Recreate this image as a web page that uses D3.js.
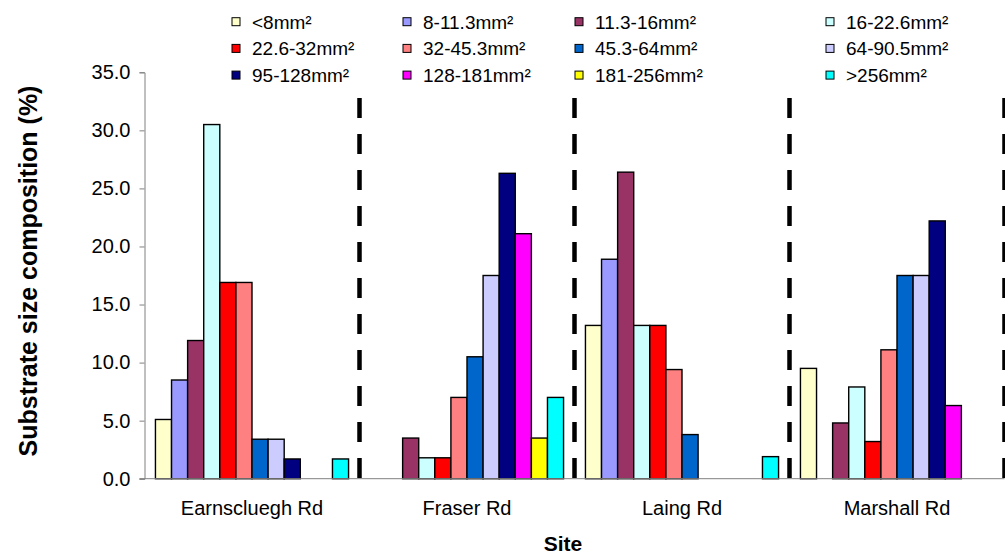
<!DOCTYPE html>
<html>
<head>
<meta charset="utf-8">
<script src="https://cdnjs.cloudflare.com/ajax/libs/d3/7.8.5/d3.min.js"></script>
<style>
  body { margin: 0; background: #fff; }
  text { font-family: "Liberation Sans", Arial, sans-serif; fill: #000; }
</style>
</head>
<body>
<div id="chart"></div>
<script>
const sites = ["Earnscluegh Rd", "Fraser Rd", "Laing Rd", "Marshall Rd"];
const sizeClasses = ["<8mm²", "8-11.3mm²", "11.3-16mm²", "16-22.6mm²",
                     "22.6-32mm²", "32-45.3mm²", "45.3-64mm²", "64-90.5mm²",
                     "95-128mm²", "128-181mm²", "181-256mm²", ">256mm²"];
const colours = ["#FFFFCC", "#9999FF", "#993366", "#CCFFFF",
                 "#FF0000", "#FF8080", "#0066CC", "#CCCCFF",
                 "#000080", "#FF00FF", "#FFFF00", "#00FFFF"];

// % composition per size class, one array per site
const earnscluegh = [5.1, 8.5, 11.9, 30.5, 16.9, 16.9, 3.4, 3.4, 1.7, 0, 0, 1.7];
const fraser      = [0, 0, 3.5, 1.8, 1.8, 7.0, 10.5, 17.5, 26.3, 21.1, 3.5, 7.0];
const laing       = [13.2, 18.9, 26.4, 13.2, 13.2, 9.4, 3.8, 0, 0, 0, 0, 1.9];
const marshall    = [9.5, 0, 4.8, 7.9, 3.2, 11.1, 17.5, 17.5, 22.2, 6.3, 0, 0];
const yTicks = [0, 5, 10, 15, 20, 25, 30, 35];

const siteValues = [earnscluegh, fraser, laing, marshall];

const width = 1005, height = 554;
const plotLeft = 144.5, plotRight = 1004.5, plotTop = 72.3, plotBottom = 478.7;
const legendColX = [232, 403, 575, 826];

const svg = d3.select("#chart")
  .append("svg")
  .attr("width", width)
  .attr("height", height);

const x0 = d3.scaleBand()
  .domain(sites)
  .range([plotLeft, plotRight])
  .padding(0);

const x1 = d3.scaleBand()
  .domain(sizeClasses)
  .range([0, x0.bandwidth()])
  .paddingInner(0)
  .paddingOuter(0.68);

const y = d3.scaleLinear()
  .domain([0, 35])
  .range([plotBottom, plotTop]);

const colour = d3.scaleOrdinal().domain(sizeClasses).range(colours);

// bars
const groups = svg.selectAll("g.site")
  .data(sites)
  .enter()
  .append("g")
    .attr("class", "site")
    .attr("transform", d => `translate(${x0(d)},0)`);

groups.selectAll("rect")
  .data((d, i) => sizeClasses.map((s, j) => ({ size: s, value: siteValues[i][j] }))
                             .filter(d => d.value > 0))
  .enter()
  .append("rect")
    .attr("x", d => x1(d.size))
    .attr("y", d => y(d.value))
    .attr("width", x1.bandwidth())
    .attr("height", d => y(0) - y(d.value))
    .attr("fill", d => colour(d.size))
    .attr("stroke", "#000")
    .attr("stroke-width", 1.4);

// dashed site separators
svg.selectAll("line.sep")
  .data(sites)
  .enter()
  .append("line")
    .attr("class", "sep")
    .attr("x1", d => x0(d) + x0.bandwidth())
    .attr("x2", d => x0(d) + x0.bandwidth())
    .attr("y1", 98)
    .attr("y2", plotBottom)
    .attr("stroke", "#000")
    .attr("stroke-width", 4.5)
    .attr("stroke-dasharray", "20,16");

// y axis
const yAxis = svg.append("g")
  .attr("transform", `translate(${plotLeft},0)`)
  .call(d3.axisLeft(y).tickValues(yTicks).tickFormat(d3.format(".1f")).tickSize(5).tickPadding(9));
yAxis.select(".domain").attr("stroke", "#808080");
yAxis.selectAll(".tick line").attr("stroke", "#808080");
yAxis.selectAll(".tick text").attr("font-size", 20).attr("fill", "#000");

// x axis line
svg.append("line")
  .attr("x1", plotLeft - 5).attr("x2", plotRight)
  .attr("y1", plotBottom).attr("y2", plotBottom)
  .attr("stroke", "#808080");

// site labels
svg.selectAll("text.site")
  .data(sites)
  .enter()
  .append("text")
    .attr("class", "site")
    .attr("x", d => x0(d) + x0.bandwidth() / 2)
    .attr("y", 515)
    .attr("text-anchor", "middle")
    .attr("font-size", 20)
    .text(d => d);

svg.append("text")
  .attr("x", 563)
  .attr("y", 551)
  .attr("text-anchor", "middle")
  .attr("font-size", 21)
  .attr("font-weight", "bold")
  .text("Site");

svg.append("text")
  .attr("transform", `translate(37,271) rotate(-90)`)
  .attr("text-anchor", "middle")
  .attr("font-size", 25)
  .attr("font-weight", "bold")
  .text("Substrate size composition (%)");

// legend, 4 columns x 3 rows
const legend = svg.selectAll("g.legend")
  .data(sizeClasses)
  .enter()
  .append("g")
    .attr("class", "legend")
    .attr("transform", (d, i) => `translate(${legendColX[i % 4]},${21.7 + Math.floor(i / 4) * 26.7})`);

legend.append("rect")
  .attr("x", 0).attr("y", -4)
  .attr("width", 8).attr("height", 8)
  .attr("fill", d => colour(d))
  .attr("stroke", "#000")
  .attr("stroke-width", 1);

legend.append("text")
  .attr("x", 20)
  .attr("y", 7)
  .attr("font-size", 19)
  .text(d => d);
</script>
</body>
</html>
